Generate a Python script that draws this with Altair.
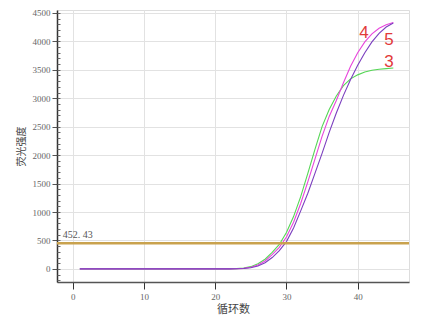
import altair as alt
import pandas as pd

cycles = list(range(1, 46))
flat = [0] * 22  # cycles 1-22
green_3 = flat + [5, 15, 40, 90, 170, 290, 430, 640, 920, 1270, 1680, 2100, 2500, 2800,
                  3040, 3220, 3340, 3410, 3460, 3490, 3510, 3520, 3530]
pink_4 = flat + [3, 10, 30, 70, 140, 250, 380, 560, 820, 1150, 1530, 1930, 2330, 2680,
                 2960, 3270, 3560, 3800, 3990, 4130, 4230, 4290, 4330]
purple_5 = flat + [2, 6, 20, 50, 110, 200, 320, 480, 720, 1020, 1330, 1680, 2030, 2400,
                   2740, 3050, 3330, 3580, 3800, 3990, 4140, 4250, 4320]
series_names = ["3", "4", "5"]
series_colors = ["#55d655", "#e845dc", "#7b3fbf"]

threshold = 452.43
threshold_label = "452. 43"

label_text = ["4", "5", "3"]
label_x = [40.9, 44.4, 44.4]
label_y = [4150, 4020, 3640]

x_ticks = list(range(0, 50, 5))
y_ticks = list(range(0, 5000, 500))
y_minor = list(range(-200, 4600, 100))

rows = []
for name, vals in zip(series_names, [green_3, pink_4, purple_5]):
    for c, v in zip(cycles, vals):
        rows.append({"cycle": c, "value": v, "series": name})
df = pd.DataFrame(rows)

xs = alt.Scale(domain=[-2.2, 47.2], nice=False, zero=False)
ys = alt.Scale(domain=[-230, 4550], nice=False, zero=False)

xaxis = alt.Axis(values=x_ticks, title="循环数", grid=True, gridColor="#e2e2e2", format="d",
                 labelFont="Liberation Serif", labelFontSize=9, labelColor="#666",
                 tickColor="#333", tickSize=7, domainColor="#555", domainWidth=1.5,
                 titleFont="Noto Sans CJK SC", titleFontSize=11, titleFontWeight="normal",
                 titleColor="#444", titlePadding=2, labelPadding=3)
yaxis = alt.Axis(values=y_ticks, title="荧光强度", grid=True, gridColor="#e2e2e2", format="d",
                 labelFont="Liberation Serif", labelFontSize=9, labelColor="#666",
                 tickColor="#555", tickSize=5, domainColor="#333", domainWidth=1.5,
                 titleFont="Noto Sans CJK SC", titleFontSize=10, titleFontWeight="normal",
                 titleColor="#444", titlePadding=6, labelPadding=2)

lines = alt.Chart(df).mark_line(strokeWidth=1.1).encode(
    x=alt.X("cycle:Q", scale=xs, axis=xaxis),
    y=alt.Y("value:Q", scale=ys, axis=yaxis),
    color=alt.Color("series:N", scale=alt.Scale(domain=series_names, range=series_colors), legend=None),
    order=alt.Order("series:N"),
)

minor = alt.Chart(pd.DataFrame({"v": y_minor})).mark_point(opacity=0).encode(
    y=alt.Y("v:Q", scale=ys, axis=alt.Axis(values=y_minor, orient="left", labels=False, domain=False,
                                          grid=False, ticks=True, tickSize=3, tickColor="#666",
                                          offset=-3, title=None)),
)

thr = alt.Chart(pd.DataFrame({"t": [threshold]})).mark_rule(color="#c9a24e", strokeWidth=2.5).encode(
    y=alt.Y("t:Q", scale=ys, axis=None)
)
thr_text = alt.Chart(pd.DataFrame({"x": [-1.4], "y": [threshold], "t": [threshold_label]})).mark_text(
    align="left", baseline="bottom", dy=-3, font="Liberation Serif", fontSize=10, color="#555"
).encode(x=alt.X("x:Q", scale=xs), y=alt.Y("y:Q", scale=ys, axis=None), text="t:N")

labels = alt.Chart(pd.DataFrame({"x": label_x, "y": label_y, "t": label_text})).mark_text(
    align="center", baseline="middle", font="Liberation Sans", fontSize=17, color="#e23a3a"
).encode(x=alt.X("x:Q", scale=xs), y=alt.Y("y:Q", scale=ys, axis=None), text="t:N")

chart = alt.layer(lines, thr, thr_text, labels, minor).resolve_axis(y="independent").properties(
    width=352, height=272,
    autosize=alt.AutoSizeParams(type="none"),
    padding={"left": 57, "top": 10, "right": 16, "bottom": 35},
).configure_view(stroke="#8c8c8c", strokeWidth=1.5).configure(background="white")

chart.save("out.html", embed_options={"renderer": "svg", "actions": False})
